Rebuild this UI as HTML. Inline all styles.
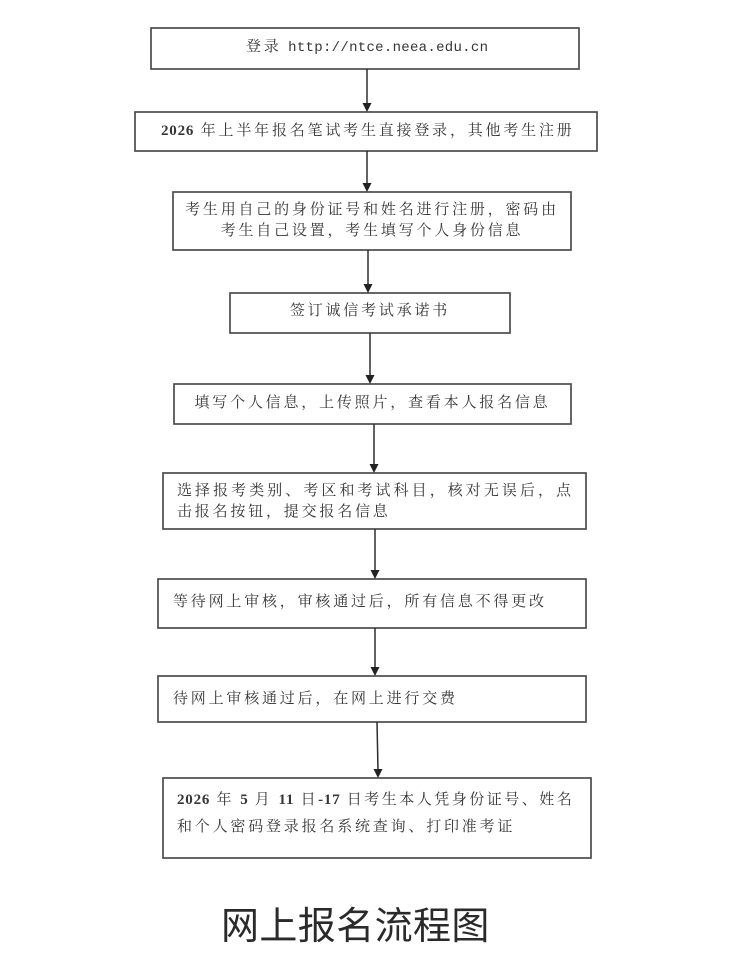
<!DOCTYPE html>
<html><head><meta charset="utf-8">
<style>
html,body{margin:0;padding:0;background:#fff;}
body{width:750px;height:973px;position:relative;overflow:hidden;}
svg{position:absolute;left:0;top:0;}
.t{position:absolute;height:20px;line-height:20px;font-size:15px;color:#363636;letter-spacing:2.8px;white-space:nowrap;font-family:"Liberation Serif","Noto Serif CJK SC",serif;}
.d{letter-spacing:0.8px;font-weight:bold;}
.m{font-family:"Liberation Mono","Noto Serif CJK SC",monospace;font-size:14px;letter-spacing:0.3px;}
.title{position:absolute;left:221px;top:903px;font-size:38px;line-height:40px;height:40px;letter-spacing:0.4px;color:#2a2a2a;white-space:nowrap;font-family:"Noto Sans CJK SC","Liberation Sans",sans-serif;}
</style></head>
<body>
<svg width="750" height="973" viewBox="0 0 750 973">
<g fill="none" stroke="#4c4c4c" stroke-width="1.7">
<rect x="151" y="28" width="428" height="41"/>
<rect x="135" y="112" width="462" height="39"/>
<rect x="173" y="192" width="398" height="58"/>
<rect x="230" y="293" width="280" height="40"/>
<rect x="174" y="384" width="397" height="40"/>
<rect x="163" y="473" width="423" height="56"/>
<rect x="158" y="579" width="428" height="49"/>
<rect x="158" y="676" width="428" height="46"/>
<rect x="163" y="778" width="428" height="80"/>
</g>
<g stroke="#2e2e2e" stroke-width="1.5">
<line x1="367" y1="69" x2="367" y2="104"/>
<line x1="367" y1="151" x2="367" y2="184"/>
<line x1="368" y1="250" x2="368" y2="285"/>
<line x1="370" y1="333" x2="370" y2="376"/>
<line x1="374" y1="424" x2="374" y2="465"/>
<line x1="375" y1="529" x2="375" y2="571"/>
<line x1="375" y1="628" x2="375" y2="668"/>
<line x1="377" y1="722" x2="378" y2="770"/>
</g>
<g fill="#222">
<polygon points="362.5,103 371.5,103 367,112"/>
<polygon points="362.5,183 371.5,183 367,192"/>
<polygon points="363.5,284 372.5,284 368,293"/>
<polygon points="365.5,375 374.5,375 370,384"/>
<polygon points="369.5,464 378.5,464 374,473"/>
<polygon points="370.5,570 379.5,570 375,579"/>
<polygon points="370.5,667 379.5,667 375,676"/>
<polygon points="373.5,769 382.5,769 378,778"/>
</g>
</svg>

<div class="t" style="left:246px;top:37px;">登录 <span class="m">http://ntce.neea.edu.cn</span></div>

<div class="t" style="left:161px;top:121px;"><span class="d">2026</span> 年上半年报名笔试考生直接登录，其他考生注册</div>

<div class="t" style="left:173px;width:398px;text-align:center;top:200px;">考生用自己的身份证号和姓名进行注册，密码由</div>
<div class="t" style="left:173px;width:398px;text-align:center;top:221px;">考生自己设置，考生填写个人身份信息</div>

<div class="t" style="left:230px;width:280px;text-align:center;top:301px;">签订诚信考试承诺书</div>

<div class="t" style="left:174px;width:397px;text-align:center;top:393px;">填写个人信息，上传照片，查看本人报名信息</div>

<div class="t" style="left:177px;top:481px;letter-spacing:3.05px;">选择报考类别、考区和考试科目，核对无误后，点</div>
<div class="t" style="left:177px;top:502px;">击报名按钮，提交报名信息</div>

<div class="t" style="left:173px;top:592px;">等待网上审核，审核通过后，所有信息不得更改</div>

<div class="t" style="left:173px;top:689px;">待网上审核通过后，在网上进行交费</div>

<div class="t" style="left:177px;top:790px;letter-spacing:2.5px;"><span class="d">2026</span> 年 <span class="d">5</span> 月 <span class="d">11</span> 日<span class="d">-17</span> 日考生本人凭身份证号、姓名</div>
<div class="t" style="left:177px;top:817px;">和个人密码登录报名系统查询、打印准考证</div>

<div class="title">网上报名流程图</div>
</body></html>
